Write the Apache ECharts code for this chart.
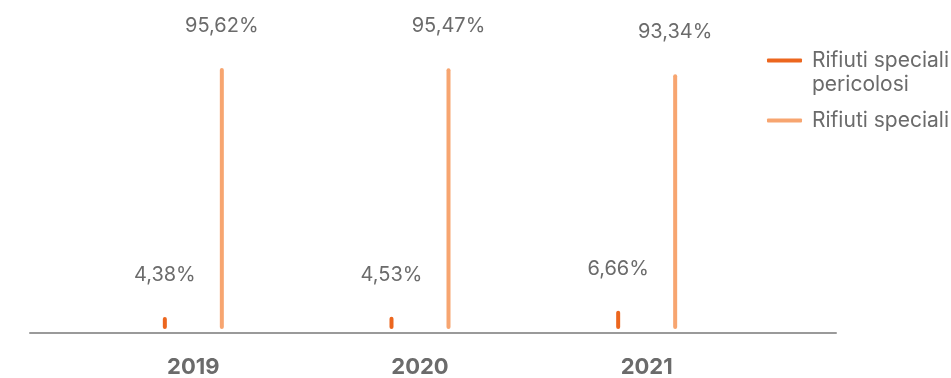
<!DOCTYPE html>
<html>
<head>
<meta charset="utf-8">
<script src="https://cdn.jsdelivr.net/npm/echarts@6/dist/echarts.min.js"></script>
<style>
  html, body { margin: 0; padding: 0; background: #ffffff; }
  #chart { width: 951px; height: 378px; }
</style>
</head>
<body>
<div id="chart"></div>
<script>
// Share of special waste by year (percent)
const years = ['2019', '2020', '2021'];
const pericolosi = [4.38, 4.53, 6.66];
const speciali = [95.62, 95.47, 93.34];
const seriesNames = ['Rifiuti speciali pericolosi', 'Rifiuti speciali'];

const DARK = '#EC661E';
const LIGHT = '#F7A570';
const TEXT = '#6b6b6b';
const FONT = 'Inter, "Noto Sans", sans-serif';

const fmtPct = v => v.toFixed(2).replace('.', ',') + '%';

const chart = echarts.init(document.getElementById('chart'), null, { renderer: 'canvas' });

const barLabel = {
  show: true,
  position: 'top',
  distance: 32,
  fontFamily: FONT,
  fontSize: 20,
  color: TEXT,
  formatter: p => fmtPct(p.value)
};

chart.setOption({
  animation: false,
  backgroundColor: '#ffffff',
  textStyle: { fontFamily: FONT },
  grid: [
    // wide grid carrying only the baseline
    { left: 30, right: 115, top: 56, bottom: 45.5 },
    // grid holding the bars
    { left: 80, right: 191, top: 56, bottom: 45.5 }
  ],
  xAxis: [
    {
      gridIndex: 0, type: 'value', min: 0, max: 1,
      axisLine: { show: true, lineStyle: { color: '#9a9a9a', width: 2 } },
      axisTick: { show: false }, axisLabel: { show: false }, splitLine: { show: false }
    },
    {
      gridIndex: 1, type: 'category', data: years,
      axisLine: { show: false }, axisTick: { show: false },
      axisLabel: { margin: 27, fontFamily: FONT, fontSize: 22, fontWeight: 'bold', color: TEXT }
    }
  ],
  yAxis: [
    { gridIndex: 0, type: 'value', min: 0, max: 100, show: false },
    { gridIndex: 1, type: 'value', min: 0, max: 100, show: false }
  ],
  legend: {
    orient: 'vertical',
    left: 767,
    top: 24.5,
    padding: 0,
    itemGap: 12,
    itemWidth: 35,
    itemHeight: 4,
    icon: 'roundRect',
    data: [
      { name: seriesNames[0], itemStyle: { color: DARK } },
      { name: seriesNames[1], itemStyle: { color: LIGHT } }
    ],
    // an empty leading line keeps the first text line level with the icon
    formatter: n => n === seriesNames[0] ? ' \nRifiuti speciali\npericolosi' : n,
    textStyle: {
      fontFamily: FONT, fontSize: 21, color: TEXT,
      lineHeight: 24, padding: [0, 0, 0, 5]
    }
  },
  series: [
    {
      name: seriesNames[0], type: 'bar', xAxisIndex: 1, yAxisIndex: 1,
      data: pericolosi, barWidth: 4, barGap: '1325%',
      itemStyle: { color: DARK, borderRadius: 2 },
      label: barLabel
    },
    {
      name: seriesNames[1], type: 'bar', xAxisIndex: 1, yAxisIndex: 1,
      data: speciali, barWidth: 4, barGap: '1325%',
      itemStyle: { color: LIGHT, borderRadius: 2 },
      label: barLabel
    }
  ]
});
</script>
</body>
</html>
